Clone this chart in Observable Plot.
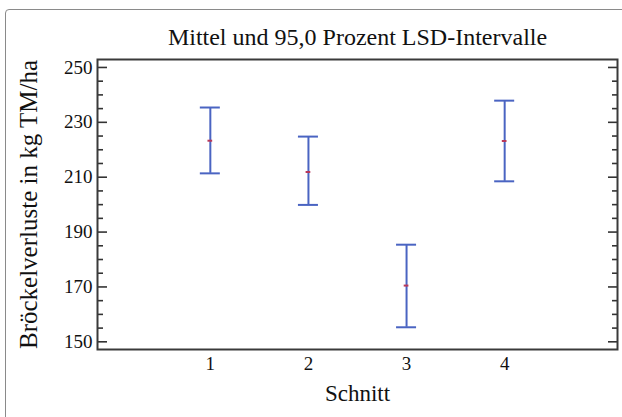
<!DOCTYPE html>
<html>
<head>
<meta charset="utf-8">
<script src="https://cdn.jsdelivr.net/npm/d3@7"></script>
<script src="https://cdn.jsdelivr.net/npm/@observablehq/plot@0.6"></script>
<style>
  html, body { margin: 0; padding: 0; background: #fff; }
  #wrap { position: relative; width: 622px; height: 417px; overflow: hidden; }
  #border { position: absolute; left: 5px; top: 9px; width: 640px; height: 430px; box-sizing: border-box;
            border: 1.5px solid #8a8a8a; border-radius: 4px; pointer-events: none; }
  #chart { position: absolute; left: 0; top: 0; }
</style>
</head>
<body>
<div id="wrap"><div id="chart"></div><div id="border"></div></div>
<script>
// Data
const cuts  = [1, 2, 3, 4];
const means = [223.3, 211.9, 170.5, 223.2];
const lower = [211.4, 199.9, 155.3, 208.5];
const upper = [235.4, 224.8, 185.4, 237.9];

const xTicks = [1, 2, 3, 4];
const yMajor = [150, 170, 190, 210, 230, 250];
const yMinor = [155, 160, 165, 175, 180, 185, 195, 200, 205, 215, 220, 225, 235, 240, 245];

const title = "Mittel und 95,0 Prozent LSD-Intervalle";
const xLabel = "Schnitt";
const yLabel = "Bröckelverluste in kg TM/ha";

const rows = cuts.map((c, i) => ({cut: c, mean: means[i], lo: lower[i], hi: upper[i]}));

const blue = "#4a64c2";
const red = "#b8385a";
const font = "Liberation Serif, Times New Roman, serif";
const capHalf = 0.102;   // half cap width in x units (~10px)
const meanHalf = 0.024;

const chart = Plot.plot({
  width: 622,
  height: 417,
  marginTop: 59,
  marginBottom: 68,
  marginLeft: 97,
  marginRight: 5,
  style: {fontFamily: font, fontSize: "19px", color: "#111", background: "transparent"},
  x: {domain: [-0.15, 5.15]},
  y: {domain: [147.2, 252.9]},
  marks: [
    Plot.axisX({ticks: xTicks, tickFormat: d => String(d), tickSize: 0, tickPadding: 7, label: null, fontSize: 19}),
    Plot.axisY({ticks: yMajor, tickFormat: d => String(d), tickSize: 0, tickPadding: 5, label: null, fontSize: 19}),
    Plot.axisY({anchor: "left", ticks: yMajor, tickSize: -10, text: null, label: null, strokeWidth: 1.6, stroke: "#333"}),
    Plot.axisY({anchor: "left", ticks: yMinor, tickSize: -6, text: null, label: null, strokeWidth: 1.6, stroke: "#333"}),
    Plot.axisY({anchor: "right", ticks: yMajor, tickSize: -10, text: null, label: null, strokeWidth: 1.6, stroke: "#333"}),
    Plot.axisY({anchor: "right", ticks: yMinor, tickSize: -6, text: null, label: null, strokeWidth: 1.6, stroke: "#333"}),
    Plot.frame({stroke: "#3a3a3a", strokeWidth: 2}),
    Plot.ruleX(rows, {x: "cut", y1: "lo", y2: "hi", stroke: blue, strokeWidth: 2}),
    Plot.ruleY(rows, {y: "hi", x1: d => d.cut - capHalf, x2: d => d.cut + capHalf, stroke: blue, strokeWidth: 2}),
    Plot.ruleY(rows, {y: "lo", x1: d => d.cut - capHalf, x2: d => d.cut + capHalf, stroke: blue, strokeWidth: 2}),
    Plot.ruleY(rows, {y: "mean", x1: d => d.cut - meanHalf, x2: d => d.cut + meanHalf, stroke: red, strokeWidth: 2}),
    Plot.text([title], {frameAnchor: "top", dy: -22, fontSize: 24, lineAnchor: "middle", textAnchor: "middle", fill: "#111"}),
    Plot.text([xLabel], {frameAnchor: "bottom", dy: 44, fontSize: 23, lineAnchor: "middle", textAnchor: "middle", fill: "#111"}),
    Plot.text([yLabel], {frameAnchor: "left", dx: -69, rotate: -90, fontSize: 25, lineAnchor: "middle", textAnchor: "middle", fill: "#111"})
  ]
});
document.getElementById("chart").appendChild(chart);
</script>
</body>
</html>
